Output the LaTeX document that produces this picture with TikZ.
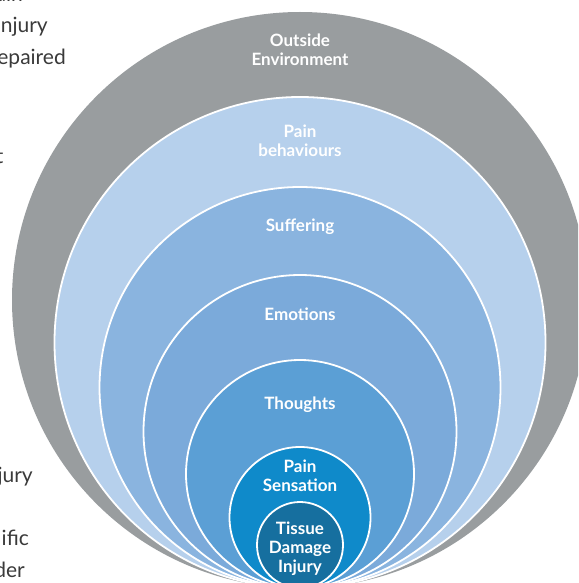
\documentclass[tikz,border=0pt]{standalone}
\usepackage{fontspec}
\setmainfont{Lato}
\definecolor{cgrey}{HTML}{999D9F}
\definecolor{cbehav}{HTML}{B6D0EC}
\definecolor{csuff}{HTML}{8AB4DF}
\definecolor{cemo}{HTML}{7BAADA}
\definecolor{cthou}{HTML}{5B9FD5}
\definecolor{csens}{HTML}{0F8ACA}
\definecolor{ctiss}{HTML}{166F9F}
\definecolor{bodytext}{HTML}{3A3A3A}
\tikzset{
  ring/.style={circle, inner sep=0pt, outer sep=0pt, draw=white, line width=1.8pt},
  lbl/.style={text=white, inner sep=0pt, anchor=base,
    font=\fontsize{17}{19}\selectfont\bfseries},
  body/.style={text=bodytext, inner sep=0pt, anchor=base east,
    font=\fontsize{21}{32}\selectfont}
}
\newcommand{\twoline}[2]{\begin{tabular}[t]{@{}c@{}}#1\\#2\end{tabular}}
\newcommand{\threeline}[3]{\begin{tabular}[t]{@{}c@{}}#1\\#2\\#3\end{tabular}}
\begin{document}
\begin{tikzpicture}[x=1pt,y=-1pt]
\useasboundingbox (0,0) rectangle (578,583);
\clip (0,0) rectangle (578,583);
% nested circles, all tangent at (300,588)
\node[circle, inner sep=0pt, outer sep=0pt, fill=cgrey, minimum size=576pt] (outer) at (300,300) {};
\node[ring, fill=cbehav, minimum size=491pt] (behav) at (300,342.5) {};
\node[ring, fill=csuff, minimum size=401pt] (suff) at (300,387.5) {};
\node[ring, fill=cemo, minimum size=313pt] (emo) at (300,431.5) {};
\node[ring, fill=cthou, minimum size=228pt] (thou) at (300,474) {};
\node[ring, fill=csens, minimum size=141pt] (sens) at (300,517.5) {};
\node[ring, fill=ctiss, minimum size=86pt] (tiss) at (300,545) {};
% labels
\node[lbl] (louter) at (300,47) {\twoline{Outside}{Environment}};
\node[lbl] (lbehav) at (300,137) {\twoline{Pain}{behaviours}};
\node[lbl] (lsuff) at (300,231) {Suffering};
\node[lbl] (lemo) at (300,320) {Emotions};
\node[lbl] (lthou) at (300,409) {Thoughts};
\node[lbl] (lsens) at (300,472) {\twoline{Pain}{Sensation}};
\node[lbl] (ltiss) at (300,534) {\threeline{Tissue}{Damage}{Injury}};
% fragments of body text at the left edge
\node[body] (b1) at (23,1.5) {ain};
\node[body] (b2) at (48,33) {njury};
\node[body] (b3) at (66,65) {epaired};
\node[body] (b4) at (3.5,163) {t};
\node[body] (b5) at (33,482) {jury};
\node[body] (b6) at (29,545) {ific};
\node[body] (b7) at (25,577) {der};
\end{tikzpicture}
\end{document}
